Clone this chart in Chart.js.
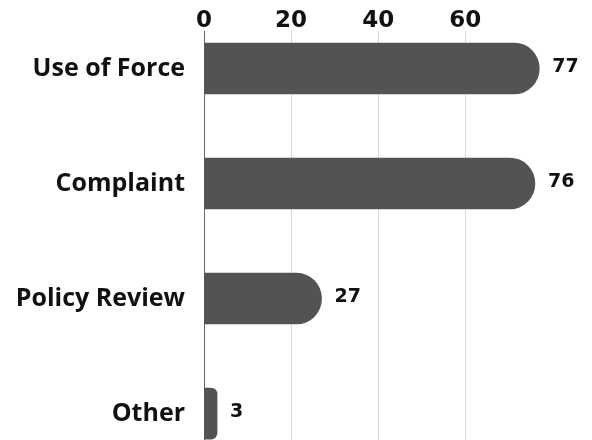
<!DOCTYPE html>
<html>
<head>
<meta charset="utf-8">
<script src="https://cdn.jsdelivr.net/npm/chart.js@4"></script>
<style>
  html, body { margin: 0; padding: 0; background: #fff; overflow: hidden; }
</style>
</head>
<body>
<canvas id="chart" width="592" height="440"></canvas>
<script>
const categories = ["Use of Force", "Complaint", "Policy Review", "Other"];
const counts = [77, 76, 27, 3];
const xTicks = [0, 20, 40, 60];

const barColor = "#525453";

// value next to the end of each bar
const valueLabels = {
    id: "valueLabels",
    afterDatasetsDraw(chart) {
        const ctx = chart.ctx;
        const meta = chart.getDatasetMeta(0);
        ctx.save();
        ctx.font = "bold 19px 'DejaVu Sans'";
        ctx.fillStyle = "#111";
        ctx.textAlign = "left";
        ctx.textBaseline = "alphabetic";
        meta.data.forEach((bar, i) => {
            ctx.fillText(String(counts[i]), bar.x + 13, bar.y + 3.5);
        });
        ctx.restore();
    }
};

new Chart(document.getElementById("chart").getContext("2d"), {
    type: "bar",
    data: {
        datasets: [{
            data: counts.map((v, i) => ({ x: v, y: i })),
            backgroundColor: barColor,
            borderRadius: 26,
            borderSkipped: "start",
            barThickness: 51
        }]
    },
    options: {
        indexAxis: "y",
        responsive: false,
        animation: false,
        layout: { padding: { right: 44 } },
        plugins: { legend: { display: false }, tooltip: { enabled: false } },
        scales: {
            x: {
                type: "linear",
                position: "top",
                min: 0,
                max: 79,
                afterBuildTicks: axis => { axis.ticks = xTicks.map(v => ({ value: v })); },
                afterFit: axis => { axis.height = 31; axis.paddingLeft = 0; axis.paddingRight = 0; },
                grid: { color: "#d9d9d9", drawTicks: false },
                border: { display: false },
                ticks: {
                    padding: -4,
                    color: "#111",
                    font: { family: "'DejaVu Sans'", size: 23, weight: "bold" }
                }
            },
            y: {
                type: "linear",
                offset: false,
                min: -0.326,
                max: 3.23,
                reverse: true,
                afterBuildTicks: axis => { axis.ticks = categories.map((c, i) => ({ value: i })); },
                afterFit: axis => { axis.width = 204; axis.paddingTop = 0; axis.paddingBottom = 0; },
                grid: { display: false, drawTicks: false, offset: false },
                border: { display: true, color: "#666", width: 1 },
                ticks: {
                    padding: 19,
                    color: "#111",
                    font: { family: "'Open Sans'", size: 25, weight: "bold" },
                    callback: v => categories[v] ?? ""
                }
            }
        }
    },
    plugins: [valueLabels]
});
</script>
</body>
</html>
